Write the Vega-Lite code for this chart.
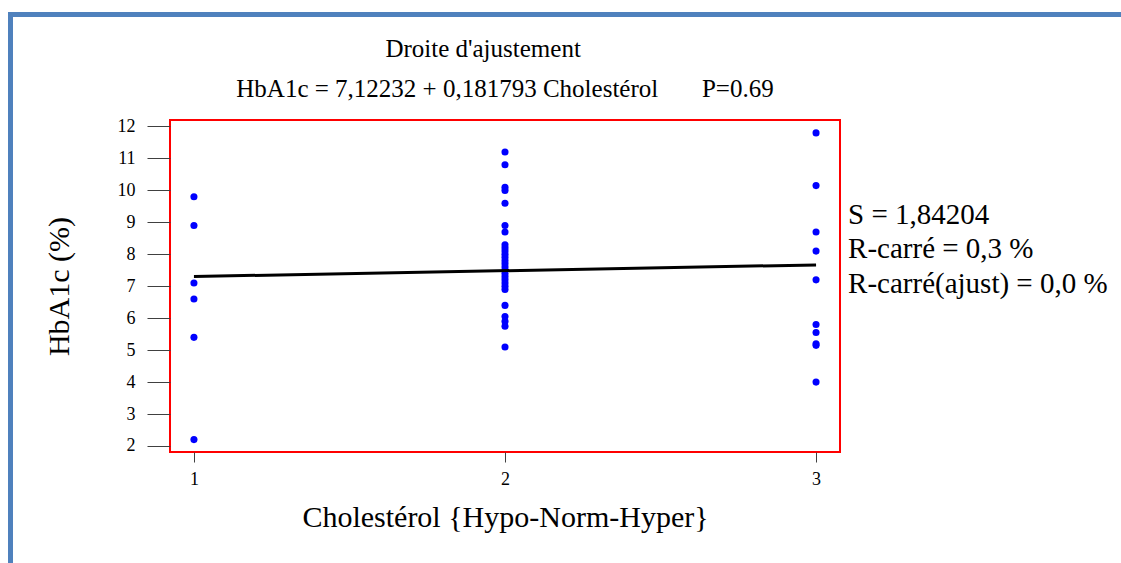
{
  "$schema": "https://vega.github.io/schema/vega-lite/v6.json",
  "background": "white",
  "padding": {"left": 8, "top": 12, "right": 0, "bottom": 0},
  "config": {
    "font": "Liberation Serif",
    "view": {"stroke": null},
    "title": {"fontWeight": "normal", "color": "black", "subtitleColor": "black", "font": "Liberation Serif", "subtitleFont": "Liberation Serif"},
    "axis": {"labelFont": "Liberation Serif", "titleFont": "Liberation Serif", "labelColor": "black", "titleColor": "black", "titleFontWeight": "normal", "grid": false, "domain": false, "tickColor": "#404040", "labelOverlap": false},
    "axisX": {"tickSize": 10, "labelFontSize": 18, "labelPadding": 8, "titleFontSize": 30, "titlePadding": 14},
    "axisY": {"tickSize": 23, "labelFontSize": 18, "labelPadding": 12, "titleFontSize": 30, "titlePadding": 43}
  },
  "datasets": {
    "mesures": [
      {"Cholestérol": 1, "HbA1c": 9.8},
      {"Cholestérol": 1, "HbA1c": 8.9},
      {"Cholestérol": 1, "HbA1c": 7.1},
      {"Cholestérol": 1, "HbA1c": 6.6},
      {"Cholestérol": 1, "HbA1c": 5.4},
      {"Cholestérol": 1, "HbA1c": 2.2},
      {"Cholestérol": 2, "HbA1c": 11.2},
      {"Cholestérol": 2, "HbA1c": 10.8},
      {"Cholestérol": 2, "HbA1c": 10.1},
      {"Cholestérol": 2, "HbA1c": 10.0},
      {"Cholestérol": 2, "HbA1c": 9.6},
      {"Cholestérol": 2, "HbA1c": 8.9},
      {"Cholestérol": 2, "HbA1c": 8.7},
      {"Cholestérol": 2, "HbA1c": 8.3},
      {"Cholestérol": 2, "HbA1c": 8.2},
      {"Cholestérol": 2, "HbA1c": 8.1},
      {"Cholestérol": 2, "HbA1c": 8.0},
      {"Cholestérol": 2, "HbA1c": 7.9},
      {"Cholestérol": 2, "HbA1c": 7.8},
      {"Cholestérol": 2, "HbA1c": 7.7},
      {"Cholestérol": 2, "HbA1c": 7.6},
      {"Cholestérol": 2, "HbA1c": 7.5},
      {"Cholestérol": 2, "HbA1c": 7.4},
      {"Cholestérol": 2, "HbA1c": 7.3},
      {"Cholestérol": 2, "HbA1c": 7.2},
      {"Cholestérol": 2, "HbA1c": 7.1},
      {"Cholestérol": 2, "HbA1c": 7.0},
      {"Cholestérol": 2, "HbA1c": 6.9},
      {"Cholestérol": 2, "HbA1c": 6.4},
      {"Cholestérol": 2, "HbA1c": 6.05},
      {"Cholestérol": 2, "HbA1c": 5.9},
      {"Cholestérol": 2, "HbA1c": 5.75},
      {"Cholestérol": 2, "HbA1c": 5.1},
      {"Cholestérol": 3, "HbA1c": 11.8},
      {"Cholestérol": 3, "HbA1c": 10.15},
      {"Cholestérol": 3, "HbA1c": 8.7},
      {"Cholestérol": 3, "HbA1c": 8.1},
      {"Cholestérol": 3, "HbA1c": 7.2},
      {"Cholestérol": 3, "HbA1c": 5.8},
      {"Cholestérol": 3, "HbA1c": 5.55},
      {"Cholestérol": 3, "HbA1c": 5.2},
      {"Cholestérol": 3, "HbA1c": 5.15},
      {"Cholestérol": 3, "HbA1c": 4.0}
    ],
    "ajustement": [
      {"Cholestérol": 1, "HbA1c": 7.304},
      {"Cholestérol": 3, "HbA1c": 7.668}
    ]
  },
  "spacing": 0,
  "hconcat": [
    {
      "width": 5,
      "height": 551,
      "view": {"fill": "#4f81bd", "stroke": null},
      "data": {"values": []},
      "mark": "point"
    },
    {
      "spacing": 19,
      "vconcat": [
        {
          "width": 1108,
          "height": 5,
          "view": {"fill": "#4f81bd", "stroke": null},
          "data": {"values": []},
          "mark": "point"
        },
        {
          "bounds": "flush",
          "spacing": 156,
          "hconcat": [
            {
              "width": 1,
              "height": 1,
              "data": {"values": []},
              "mark": "point"
            },
            {
              "width": 670,
              "height": 332,
              "view": {"stroke": "#ff0000", "strokeWidth": 2},
              "title": {
                "text": "Droite d'ajustement\u00a0\u00a0\u00a0\u00a0\u00a0\u00a0\u00a0\u200d",
                "subtitle": "HbA1c = 7,12232 + 0,181793 Cholestérol\u00a0\u00a0\u00a0\u00a0\u00a0\u00a0\u00a0P=0.69",
                "anchor": "middle",
                "frame": "group",
                "font": "Liberation Serif",
                "subtitleFont": "Liberation Serif",
                "fontWeight": "normal",
                "color": "black",
                "subtitleColor": "black",
                "fontSize": 25,
                "subtitleFontSize": 25,
                "subtitlePadding": 15,
                "offset": 15
              },
              "layer": [
                {
                  "data": {"name": "mesures"},
                  "mark": {"type": "circle", "color": "#0000ff", "opacity": 1, "size": 50},
                  "encoding": {
                    "x": {
                      "field": "Cholestérol",
                      "type": "quantitative",
                      "scale": {"domain": [0.923, 3.077], "nice": false, "zero": false},
                      "axis": {"values": [1, 2, 3], "format": "d", "title": "Cholestérol {Hypo-Norm-Hyper}"}
                    },
                    "y": {
                      "field": "HbA1c",
                      "type": "quantitative",
                      "scale": {"domain": [1.812, 12.203], "nice": false, "zero": false},
                      "axis": {"values": [2, 3, 4, 5, 6, 7, 8, 9, 10, 11, 12], "format": "d", "title": "HbA1c (%)"}
                    }
                  }
                },
                {
                  "data": {"name": "ajustement"},
                  "mark": {"type": "line", "color": "black", "strokeWidth": 3},
                  "encoding": {
                    "x": {
                      "field": "Cholestérol",
                      "type": "quantitative",
                      "axis": {"values": [1, 2, 3], "format": "d", "title": "Cholestérol {Hypo-Norm-Hyper}"}
                    },
                    "y": {
                      "field": "HbA1c",
                      "type": "quantitative",
                      "axis": {"values": [2, 3, 4, 5, 6, 7, 8, 9, 10, 11, 12], "format": "d", "title": "HbA1c (%)"}
                    }
                  }
                },
                {
                  "data": {"values": [{}]},
                  "mark": {"type": "text", "align": "left", "baseline": "alphabetic", "fontSize": 29, "lineHeight": 34.5, "color": "black"},
                  "encoding": {
                    "x": {
                      "datum": 3.103,
                      "type": "quantitative",
                      "axis": {"values": [1, 2, 3], "format": "d", "title": "Cholestérol {Hypo-Norm-Hyper}"}
                    },
                    "y": {
                      "datum": 8.95,
                      "type": "quantitative",
                      "axis": {"values": [2, 3, 4, 5, 6, 7, 8, 9, 10, 11, 12], "format": "d", "title": "HbA1c (%)"}
                    },
                    "text": {"value": ["S = 1,84204", "R-carré = 0,3 %", "R-carré(ajust) = 0,0 %"]}
                  }
                }
              ]
            }
          ]
        }
      ]
    }
  ]
}
